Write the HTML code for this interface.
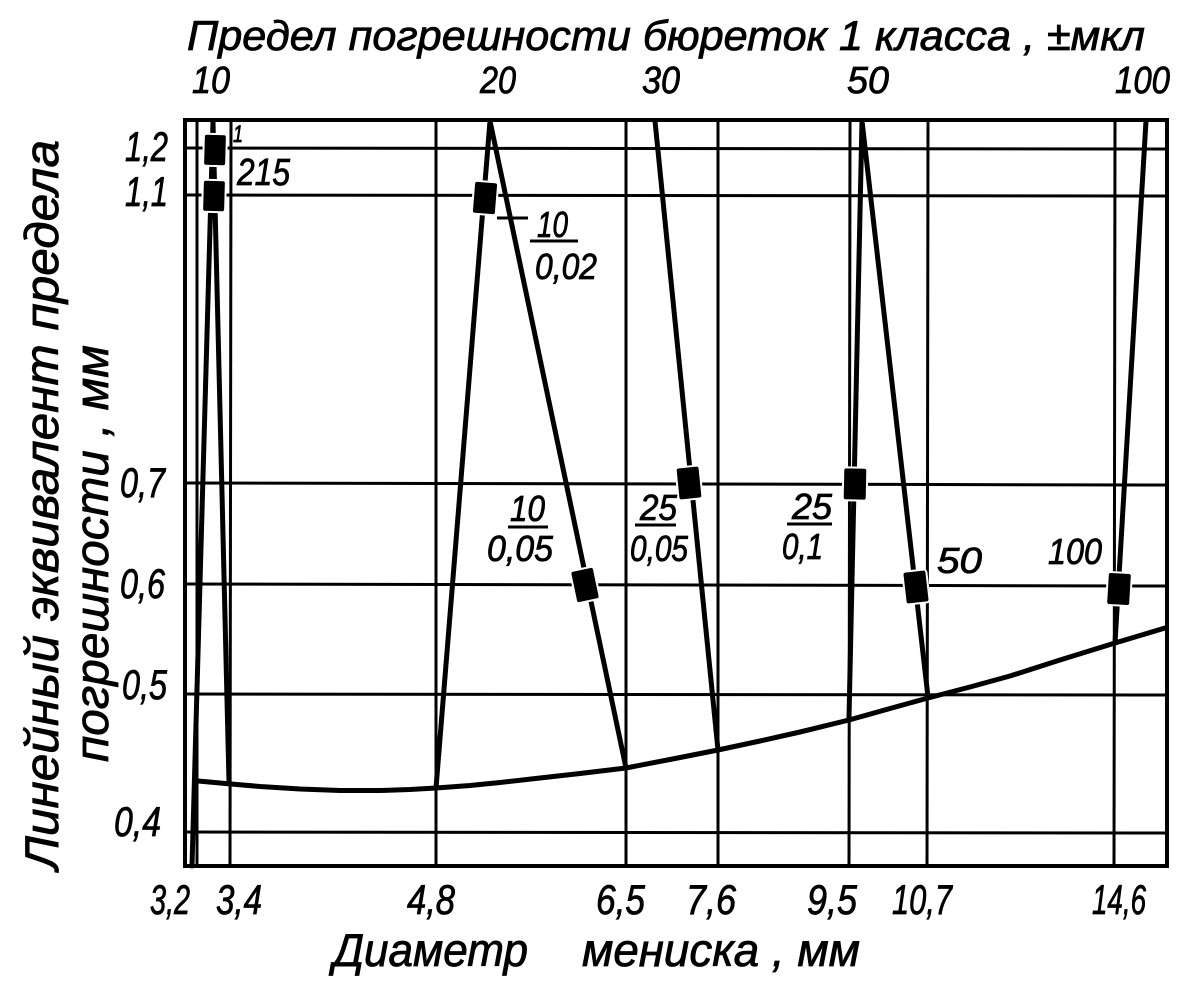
<!DOCTYPE html>
<html>
<head>
<meta charset="utf-8">
<style>
  html, body { margin: 0; padding: 0; background: #fff; }
  svg { display: block; }
  text { font-family: "Liberation Sans", "DejaVu Sans", sans-serif; font-style: italic; fill: #000; stroke: #000; stroke-width: 0.8px; }
</style>
</head>
<body>
<svg width="1186" height="984" viewBox="0 0 1186 984" xmlns="http://www.w3.org/2000/svg">
  <rect x="0" y="0" width="1186" height="984" fill="#fff"/>

  <!-- horizontal grid lines -->
  <g stroke="#000" stroke-width="3">
    <line x1="185" y1="148" x2="1167" y2="149"/>
    <line x1="185" y1="195" x2="1167" y2="196"/>
    <line x1="185" y1="483" x2="1167" y2="485"/>
    <line x1="185" y1="584" x2="1167" y2="586"/>
    <line x1="185" y1="694" x2="1167" y2="695"/>
    <line x1="185" y1="832" x2="1167" y2="833"/>
  </g>
  <!-- vertical grid lines -->
  <g stroke="#000" stroke-width="3">
    <line x1="197" y1="120" x2="197" y2="866"/>
    <line x1="231" y1="120" x2="230" y2="866"/>
    <line x1="436" y1="120" x2="436" y2="866"/>
    <line x1="626" y1="120" x2="626" y2="866"/>
    <line x1="718" y1="120" x2="718" y2="866"/>
    <line x1="850" y1="120" x2="849" y2="866"/>
    <line x1="928" y1="120" x2="927" y2="866"/>
    <line x1="1115" y1="120" x2="1114" y2="866"/>
  </g>
  <!-- frame -->
  <rect x="185" y="120" width="982" height="746" fill="none" stroke="#000" stroke-width="4"/>

  <!-- series lines -->
  <g stroke="#000" stroke-width="5" fill="none" stroke-linejoin="round" stroke-linecap="round">
    <polyline points="192,866 213,122 229,782"/>
    <polyline points="436,788 490,121 626,768"/>
    <polyline points="655,121 718,750"/>
    <polyline points="849,718 862,121 928,697"/>
    <polyline points="1115,643 1146,121"/>
    <polyline points="198,781 231,784 260,786.5 300,789 340,790.5 380,790.5 410,789.5 436,788 470,785.5 500,782.5 540,778 580,773.5 626,768 670,759.5 718,750 760,741 800,732 849,720 890,708.5 928,698 970,687 1010,676 1060,660 1115,643 1140,635.5 1165,628"/>
  </g>

  <!-- markers -->
  <g fill="#000" stroke="#fff" stroke-width="2">
    <rect x="-11.5" y="-16" width="23" height="32" rx="3" transform="translate(215,150) rotate(1.6)"/>
    <rect x="-11.5" y="-16" width="23" height="32" rx="3" transform="translate(214,196) rotate(1.6)"/>
    <rect x="-12" y="-16.5" width="24" height="33" rx="3" transform="translate(485,198) rotate(4.6)"/>
    <rect x="-12" y="-16.5" width="24" height="33" rx="3" transform="translate(585,585) rotate(-11.9)"/>
    <rect x="-12" y="-16.5" width="24" height="33" rx="3" transform="translate(689,483) rotate(-5.7)"/>
    <rect x="-12" y="-16.5" width="24" height="33" rx="3" transform="translate(855,484) rotate(1.2)"/>
    <rect x="-12" y="-16.5" width="24" height="33" rx="3" transform="translate(916,587) rotate(-6.5)"/>
    <rect x="-12" y="-16.5" width="24" height="33" rx="3" transform="translate(1119,589) rotate(3.4)"/>
  </g>

  <!-- title -->
  <text x="187" y="50" font-size="42" textLength="958" lengthAdjust="spacingAndGlyphs">Предел погрешности бюреток 1 класса , ±мкл</text>

  <!-- top labels -->
  <g font-size="38">
    <text x="192" y="93" textLength="38" lengthAdjust="spacingAndGlyphs">10</text>
    <text x="480" y="93" textLength="36" lengthAdjust="spacingAndGlyphs">20</text>
    <text x="642" y="93" textLength="38" lengthAdjust="spacingAndGlyphs">30</text>
    <text x="847" y="93" textLength="42" lengthAdjust="spacingAndGlyphs">50</text>
    <text x="1115" y="93" textLength="55" lengthAdjust="spacingAndGlyphs">100</text>
  </g>

  <!-- bottom labels -->
  <g font-size="42">
    <text x="150" y="914" textLength="40" lengthAdjust="spacingAndGlyphs">3,2</text>
    <text x="216" y="914" textLength="46" lengthAdjust="spacingAndGlyphs">3,4</text>
    <text x="407" y="914" textLength="48" lengthAdjust="spacingAndGlyphs">4,8</text>
    <text x="596" y="914" textLength="49" lengthAdjust="spacingAndGlyphs">6,5</text>
    <text x="686" y="914" textLength="50" lengthAdjust="spacingAndGlyphs">7,6</text>
    <text x="807" y="914" textLength="50" lengthAdjust="spacingAndGlyphs">9,5</text>
    <text x="892" y="914" textLength="60" lengthAdjust="spacingAndGlyphs">10,7</text>
    <text x="1092" y="914" textLength="54" lengthAdjust="spacingAndGlyphs">14,6</text>
  </g>

  <!-- left labels -->
  <g font-size="42">
    <text x="125" y="161" textLength="43" lengthAdjust="spacingAndGlyphs">1,2</text>
    <text x="125" y="206" textLength="43" lengthAdjust="spacingAndGlyphs">1,1</text>
    <text x="120" y="497" textLength="45" lengthAdjust="spacingAndGlyphs">0,7</text>
    <text x="120" y="598" textLength="45" lengthAdjust="spacingAndGlyphs">0,6</text>
    <text x="122" y="699" textLength="45" lengthAdjust="spacingAndGlyphs">0,5</text>
    <text x="114" y="836" textLength="47" lengthAdjust="spacingAndGlyphs">0,4</text>
  </g>

  <!-- x axis title -->
  <text x="333" y="966" font-size="46" textLength="195" lengthAdjust="spacingAndGlyphs">Диаметр</text>
  <text x="582" y="966" font-size="46" textLength="278" lengthAdjust="spacingAndGlyphs">мениска , мм</text>

  <!-- y axis title -->
  <text transform="translate(58,870) rotate(-90)" font-size="47" textLength="730" lengthAdjust="spacingAndGlyphs">Линейный эквивалент предела</text>
  <text transform="translate(108,762) rotate(-90)" font-size="47" textLength="417" lengthAdjust="spacingAndGlyphs">погрешности , мм</text>

  <!-- annotations -->
  <text x="233" y="142" font-size="24" textLength="10" lengthAdjust="spacingAndGlyphs">1</text>
  <text x="237" y="185" font-size="38" textLength="53" lengthAdjust="spacingAndGlyphs">215</text>

  <g stroke="#000" stroke-width="3">
    <line x1="497" y1="218" x2="528" y2="218"/>
    <line x1="530" y1="241" x2="578" y2="241"/>
    <line x1="508" y1="527" x2="548" y2="527"/>
    <line x1="635" y1="525" x2="676" y2="525"/>
    <line x1="787" y1="524" x2="832" y2="524"/>
  </g>
  <g font-size="36">
    <text x="537" y="237" textLength="31" lengthAdjust="spacingAndGlyphs">10</text>
    <text x="535" y="279" textLength="62" lengthAdjust="spacingAndGlyphs">0,02</text>
    <text x="510" y="521" textLength="35" lengthAdjust="spacingAndGlyphs">10</text>
    <text x="487" y="561" textLength="66" lengthAdjust="spacingAndGlyphs">0,05</text>
    <text x="640" y="520" textLength="37" lengthAdjust="spacingAndGlyphs">25</text>
    <text x="630" y="561" textLength="58" lengthAdjust="spacingAndGlyphs">0,05</text>
    <text x="792" y="519" textLength="40" lengthAdjust="spacingAndGlyphs">25</text>
    <text x="782" y="559" textLength="41" lengthAdjust="spacingAndGlyphs">0,1</text>
    <text x="937" y="573" textLength="45" lengthAdjust="spacingAndGlyphs">50</text>
    <text x="1048" y="564" textLength="54" lengthAdjust="spacingAndGlyphs">100</text>
  </g>
</svg>
</body>
</html>
